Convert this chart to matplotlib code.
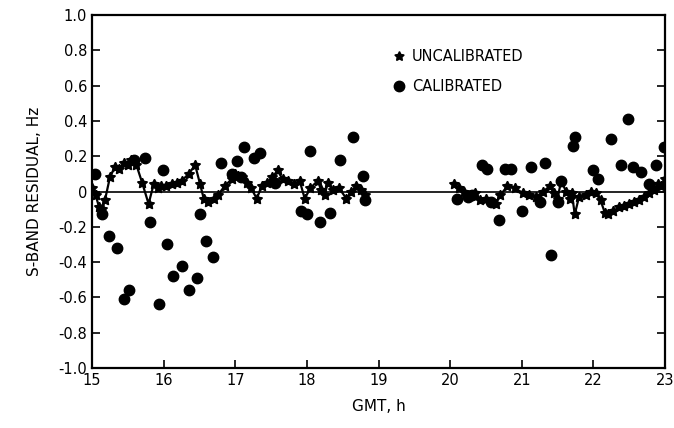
import numpy as np
import matplotlib
matplotlib.use("Agg")
import matplotlib.pyplot as plt

# Uncalibrated residuals (star markers, connected), two passes
unc1_x = [15.00, 15.05, 15.10, 15.14, 15.18, 15.25, 15.32, 15.38, 15.44, 15.50, 15.55, 15.62,
          15.70, 15.79, 15.86, 15.92, 15.97, 16.04, 16.11, 16.18, 16.25, 16.35, 16.44, 16.51,
          16.56, 16.62, 16.70, 16.76, 16.85, 16.95, 17.00, 17.04, 17.10, 17.16, 17.22, 17.30,
          17.37, 17.44, 17.52, 17.59, 17.66, 17.73, 17.82, 17.90, 17.97, 18.05, 18.15, 18.20,
          18.25, 18.29, 18.36, 18.45, 18.55, 18.62, 18.69, 18.75, 18.81]
unc1_y = [0.02, -0.02, -0.09, -0.10, -0.05, 0.08, 0.14, 0.13, 0.16, 0.15, 0.18, 0.15,
          0.05, -0.07, 0.04, 0.02, 0.03, 0.03, 0.04, 0.05, 0.06, 0.10, 0.15, 0.04,
          -0.04, -0.06, -0.04, -0.02, 0.03, 0.07, 0.10, 0.09, 0.08, 0.05, 0.02, -0.04,
          0.03, 0.05, 0.08, 0.12, 0.07, 0.06, 0.04, 0.06, -0.04, 0.02, 0.06, 0.01,
          -0.02, 0.05, 0.01, 0.02, -0.04, 0.00, 0.03, 0.01, -0.02]
unc2_x = [20.05, 20.12, 20.20, 20.28, 20.35, 20.42, 20.50, 20.57, 20.64, 20.70, 20.80, 20.90,
          21.02, 21.10, 21.20, 21.30, 21.39, 21.45, 21.50, 21.55, 21.62, 21.67, 21.70, 21.74,
          21.80, 21.90, 21.97, 22.04, 22.10, 22.16, 22.20, 22.28, 22.36, 22.43, 22.50, 22.57,
          22.64, 22.71, 22.78, 22.85, 22.90, 22.95, 23.00]
unc2_y = [0.04, 0.02, 0.00, -0.02, -0.01, -0.05, -0.04, -0.06, -0.07, -0.02, 0.03, 0.02,
          -0.01, -0.02, -0.03, 0.00, 0.03, -0.01, -0.04, 0.06, 0.00, -0.04, -0.01, -0.13,
          -0.03, -0.02, 0.00, -0.01, -0.05, -0.12, -0.13, -0.11, -0.09, -0.08, -0.07, -0.06,
          -0.05, -0.03, -0.01, 0.01, 0.04, 0.03, 0.07]

# Calibrated residuals (filled dots)
cal_x = [15.04, 15.14, 15.24, 15.35, 15.45, 15.52, 15.58, 15.74, 15.81, 15.93, 15.99, 16.05,
         16.13, 16.26, 16.36, 16.47, 16.51, 16.59, 16.69, 16.80, 16.95, 17.02, 17.08, 17.12,
         17.26, 17.34, 17.55, 17.92, 18.00, 18.04, 18.18, 18.32, 18.46, 18.64, 18.78, 18.81,
         20.10, 20.25, 20.30, 20.44, 20.51, 20.57, 20.68, 20.76, 20.85, 21.00, 21.13, 21.25,
         21.32, 21.41, 21.50, 21.55, 21.71, 21.74, 21.99, 22.07, 22.24, 22.39, 22.49, 22.55,
         22.67, 22.78, 22.88, 22.98]
cal_y = [0.10, -0.13, -0.25, -0.32, -0.61, -0.56, 0.18, 0.19, -0.17, -0.64, 0.12, -0.30,
         -0.48, -0.42, -0.56, -0.49, -0.13, -0.28, -0.37, 0.16, 0.10, 0.17, 0.08, 0.25,
         0.19, 0.22, 0.05, -0.11, -0.13, 0.23, -0.17, -0.12, 0.18, 0.31, 0.09, -0.05,
         -0.04, -0.03, -0.02, 0.15, 0.13, -0.06, -0.16, 0.13, 0.13, -0.11, 0.14, -0.06,
         0.16, -0.36, -0.06, 0.06, 0.26, 0.31, 0.12, 0.07, 0.30, 0.15, 0.41, 0.14,
         0.11, 0.04, 0.15, 0.25]

xticks = [15, 16, 17, 18, 19, 20, 21, 22, 23]
yticks = [1.0, 0.8, 0.6, 0.4, 0.2, 0.0, -0.2, -0.4, -0.6, -0.8, -1.0]
ytick_labels = ["1.0", "0.8", "0.6", "0.4", "0.2", "0", "-0.2", "-0.4", "-0.6", "-0.8", "-1.0"]

plt.rcParams['font.family'] = ['DejaVu Sans']
fig = plt.figure(figsize=(6.74, 4.28), dpi=100)
ax = fig.add_axes([92/674, 1 - 368/428, (665 - 92)/674, (368 - 15)/428])

ax.axhline(0, color='black', lw=1.2, zorder=1)
for xs, ys in ((unc1_x, unc1_y), (unc2_x, unc2_y)):
    ax.plot(xs, ys, color='black', lw=1.6, marker=(5, 1, 0), markersize=7.5,
            markeredgewidth=1.0, zorder=3)
ax.plot(cal_x, cal_y, linestyle='none', marker='o', color='black', markersize=7.5, zorder=4)

ax.plot([], [], linestyle='none', marker=(5, 1, 0), color='black', markersize=7, label='UNCALIBRATED')
ax.plot([], [], linestyle='none', marker='o', color='black', markersize=7.5, label='CALIBRATED')

ax.set_xlim(15, 23)
ax.set_ylim(-1.0, 1.0)
ax.set_xticks(xticks)
ax.set_yticks(yticks)
ax.set_yticklabels(ytick_labels)
ax.tick_params(direction='in', length=6, width=1.2, labelsize=10.5, right=True)
for s in ax.spines.values():
    s.set_linewidth(1.6)

ax.set_xlabel('GMT, h', fontsize=11, labelpad=8)
ax.set_ylabel('S-BAND RESIDUAL, Hz', fontsize=11, labelpad=12)

handles, labels = ax.get_legend_handles_labels()
ax.legend(handles[-2:], labels[-2:], loc='upper left', bbox_to_anchor=(0.5, 0.94),
          frameon=False, fontsize=10.5, handletextpad=0.4, labelspacing=1.0,
          handlelength=1.0)

fig.savefig('out.png', dpi=100)
